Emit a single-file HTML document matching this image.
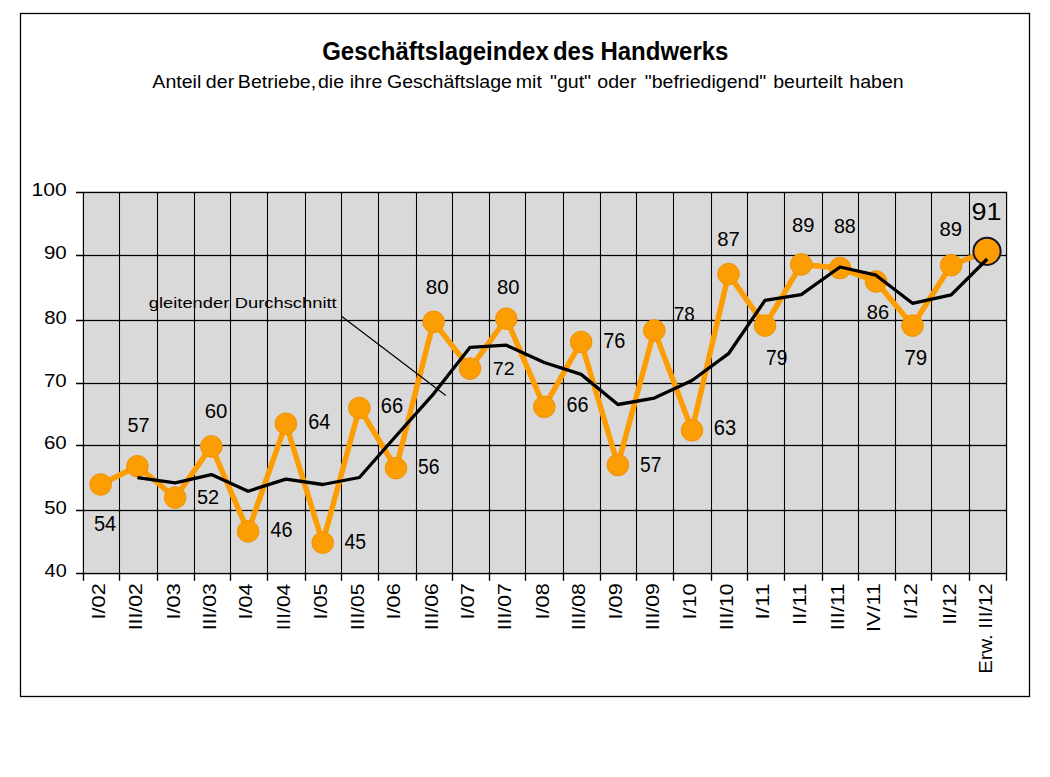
<!DOCTYPE html>
<html><head><meta charset="utf-8"><style>
html,body{margin:0;padding:0;background:#fff;width:1050px;height:777px;overflow:hidden}
svg{display:block}
text{font-family:"Liberation Sans",sans-serif}
</style></head><body>
<svg width="1050" height="777" viewBox="0 0 1050 777">
<rect x="20.5" y="13.5" width="1009" height="683" fill="#fff" stroke="#000" stroke-width="1.3"/>
<rect x="83.5" y="192.5" width="923.0" height="381.0" fill="#D9D9D9"/>
<path d="M76,573.50H1007.20 M76,510.50H1007.20 M76,445.50H1007.20 M76,383.50H1007.20 M76,320.50H1007.20 M76,255.50H1007.20 M76,192.50H1007.20 M83.50,191.80V580.7 M119.50,191.80V580.7 M157.50,191.80V580.7 M194.50,191.80V580.7 M230.50,191.80V580.7 M267.50,191.80V580.7 M305.50,191.80V580.7 M341.50,191.80V580.7 M378.50,191.80V580.7 M416.50,191.80V580.7 M452.50,191.80V580.7 M489.50,191.80V580.7 M525.50,191.80V580.7 M563.50,191.80V580.7 M600.50,191.80V580.7 M636.50,191.80V580.7 M673.50,191.80V580.7 M711.50,191.80V580.7 M747.50,191.80V580.7 M784.50,191.80V580.7 M822.50,191.80V580.7 M858.50,191.80V580.7 M895.50,191.80V580.7 M931.50,191.80V580.7 M969.50,191.80V580.7 M1006.50,191.80V580.7" stroke="#fff" stroke-width="3.0" fill="none"/>
<path d="M76,573.50H1007.20 M76,510.50H1007.20 M76,445.50H1007.20 M76,383.50H1007.20 M76,320.50H1007.20 M76,255.50H1007.20 M76,192.50H1007.20 M83.50,191.80V580.7 M119.50,191.80V580.7 M157.50,191.80V580.7 M194.50,191.80V580.7 M230.50,191.80V580.7 M267.50,191.80V580.7 M305.50,191.80V580.7 M341.50,191.80V580.7 M378.50,191.80V580.7 M416.50,191.80V580.7 M452.50,191.80V580.7 M489.50,191.80V580.7 M525.50,191.80V580.7 M563.50,191.80V580.7 M600.50,191.80V580.7 M636.50,191.80V580.7 M673.50,191.80V580.7 M711.50,191.80V580.7 M747.50,191.80V580.7 M784.50,191.80V580.7 M822.50,191.80V580.7 M858.50,191.80V580.7 M895.50,191.80V580.7 M931.50,191.80V580.7 M969.50,191.80V580.7 M1006.50,191.80V580.7" stroke="#000" stroke-width="1.35" fill="none"/>
<text transform="translate(44.60,576.80) scale(1.1059,1)" font-size="18.00">40</text>
<text transform="translate(44.19,513.80) scale(1.1271,1)" font-size="18.00">50</text>
<text transform="translate(43.98,448.80) scale(1.1381,1)" font-size="18.00">60</text>
<text transform="translate(43.98,386.80) scale(1.1381,1)" font-size="18.00">70</text>
<text transform="translate(44.19,323.80) scale(1.1271,1)" font-size="18.00">80</text>
<text transform="translate(43.98,258.80) scale(1.1381,1)" font-size="18.00">90</text>
<text transform="translate(31.61,195.80) scale(1.1756,1)" font-size="18.00">100</text>
<polyline points="100.60,484.50 137.40,466.20 175.20,497.60 211.40,446.40 248.10,531.40 285.90,423.70 322.70,542.70 359.40,408.00 396.00,468.20 433.60,321.80 470.10,368.60 506.30,318.70 544.30,406.90 581.10,342.00 617.90,465.00 654.30,330.40 692.00,430.30 728.50,274.10 765.00,325.60 801.20,264.40 840.00,268.10 876.00,281.50 912.50,325.60 951.20,265.20 987.0,251.3" fill="none" stroke="#FD9D04" stroke-width="5.5" stroke-linejoin="round"/>
<circle cx="100.60" cy="484.50" r="10.8" fill="#FD9D04" stroke="#EE9200" stroke-width="1"/>
<circle cx="137.40" cy="466.20" r="10.8" fill="#FD9D04" stroke="#EE9200" stroke-width="1"/>
<circle cx="175.20" cy="497.60" r="10.8" fill="#FD9D04" stroke="#EE9200" stroke-width="1"/>
<circle cx="211.40" cy="446.40" r="10.8" fill="#FD9D04" stroke="#EE9200" stroke-width="1"/>
<circle cx="248.10" cy="531.40" r="10.8" fill="#FD9D04" stroke="#EE9200" stroke-width="1"/>
<circle cx="285.90" cy="423.70" r="10.8" fill="#FD9D04" stroke="#EE9200" stroke-width="1"/>
<circle cx="322.70" cy="542.70" r="10.8" fill="#FD9D04" stroke="#EE9200" stroke-width="1"/>
<circle cx="359.40" cy="408.00" r="10.8" fill="#FD9D04" stroke="#EE9200" stroke-width="1"/>
<circle cx="396.00" cy="468.20" r="10.8" fill="#FD9D04" stroke="#EE9200" stroke-width="1"/>
<circle cx="433.60" cy="321.80" r="10.8" fill="#FD9D04" stroke="#EE9200" stroke-width="1"/>
<circle cx="470.10" cy="368.60" r="10.8" fill="#FD9D04" stroke="#EE9200" stroke-width="1"/>
<circle cx="506.30" cy="318.70" r="10.8" fill="#FD9D04" stroke="#EE9200" stroke-width="1"/>
<circle cx="544.30" cy="406.90" r="10.8" fill="#FD9D04" stroke="#EE9200" stroke-width="1"/>
<circle cx="581.10" cy="342.00" r="10.8" fill="#FD9D04" stroke="#EE9200" stroke-width="1"/>
<circle cx="617.90" cy="465.00" r="10.8" fill="#FD9D04" stroke="#EE9200" stroke-width="1"/>
<circle cx="654.30" cy="330.40" r="10.8" fill="#FD9D04" stroke="#EE9200" stroke-width="1"/>
<circle cx="692.00" cy="430.30" r="10.8" fill="#FD9D04" stroke="#EE9200" stroke-width="1"/>
<circle cx="728.50" cy="274.10" r="10.8" fill="#FD9D04" stroke="#EE9200" stroke-width="1"/>
<circle cx="765.00" cy="325.60" r="10.8" fill="#FD9D04" stroke="#EE9200" stroke-width="1"/>
<circle cx="801.20" cy="264.40" r="10.8" fill="#FD9D04" stroke="#EE9200" stroke-width="1"/>
<circle cx="840.00" cy="268.10" r="10.8" fill="#FD9D04" stroke="#EE9200" stroke-width="1"/>
<circle cx="876.00" cy="281.50" r="10.8" fill="#FD9D04" stroke="#EE9200" stroke-width="1"/>
<circle cx="912.50" cy="325.60" r="10.8" fill="#FD9D04" stroke="#EE9200" stroke-width="1"/>
<circle cx="951.20" cy="265.20" r="10.8" fill="#FD9D04" stroke="#EE9200" stroke-width="1"/>
<circle cx="987.0" cy="251.3" r="13.6" fill="#FD9D04" stroke="#14142a" stroke-width="2"/>
<polyline points="137.40,477.60 175.20,482.80 211.40,474.60 248.10,491.20 285.90,479.10 322.70,484.50 359.40,477.50 396.00,436.00 433.60,393.80 470.10,347.30 506.30,345.20 544.30,362.50 581.10,374.40 617.90,404.50 654.30,398.10 692.00,380.50 728.50,353.70 765.00,300.40 801.20,294.70 840.00,267.00 876.00,275.20 912.50,303.30 951.20,294.80 987.20,259.00" fill="none" stroke="#000" stroke-width="3.3" stroke-linejoin="round"/>
<path d="M341.2,316.1L445.8,395.4" stroke="#000" stroke-width="1.2"/>
<text transform="translate(94.00,530.60) scale(0.9139,1)" font-size="21.88">54</text>
<text transform="translate(127.61,431.50) scale(0.9761,1)" font-size="20.29">57</text>
<text transform="translate(197.00,504.00) scale(1.0096,1)" font-size="19.71">52</text>
<text transform="translate(204.78,418.00) scale(1.0194,1)" font-size="20.00">60</text>
<text transform="translate(270.40,537.00) scale(0.9244,1)" font-size="21.43">46</text>
<text transform="translate(308.20,428.70) scale(0.9166,1)" font-size="21.71">64</text>
<text transform="translate(344.41,549.00) scale(0.8940,1)" font-size="21.74">45</text>
<text transform="translate(380.80,412.70) scale(0.9379,1)" font-size="21.43">66</text>
<text transform="translate(418.03,473.50) scale(0.8971,1)" font-size="21.43">56</text>
<text transform="translate(425.78,294.00) scale(0.9934,1)" font-size="20.71">80</text>
<text transform="translate(492.82,374.50) scale(1.0320,1)" font-size="19.00">72</text>
<text transform="translate(496.99,294.00) scale(0.9748,1)" font-size="20.71">80</text>
<text transform="translate(566.61,412.30) scale(0.9120,1)" font-size="21.71">66</text>
<text transform="translate(603.20,347.50) scale(0.9288,1)" font-size="21.43">76</text>
<text transform="translate(640.03,471.50) scale(0.9023,1)" font-size="21.30">57</text>
<text transform="translate(673.86,321.00) scale(0.9412,1)" font-size="20.00">78</text>
<text transform="translate(713.80,435.00) scale(0.9379,1)" font-size="21.43">63</text>
<text transform="translate(717.29,246.30) scale(0.9729,1)" font-size="20.86">87</text>
<text transform="translate(766.04,364.50) scale(0.8967,1)" font-size="21.43">79</text>
<text transform="translate(791.99,232.20) scale(0.9616,1)" font-size="21.00">89</text>
<text transform="translate(833.91,232.50) scale(0.9385,1)" font-size="21.00">88</text>
<text transform="translate(866.80,318.70) scale(0.9524,1)" font-size="21.00">86</text>
<text transform="translate(904.38,364.50) scale(0.9562,1)" font-size="21.43">79</text>
<text transform="translate(939.39,236.30) scale(0.9729,1)" font-size="20.86">89</text>
<text transform="translate(971.55,220.40) scale(1.1650,1)" font-size="23.14">91</text>
<text transform="translate(104.90,619.44) rotate(-90) scale(1.1415,1)" font-size="19.0">I/02</text>
<text transform="translate(141.70,630.27) rotate(-90) scale(1.1098,1)" font-size="19.0">III/02</text>
<text transform="translate(179.50,619.44) rotate(-90) scale(1.1415,1)" font-size="19.0">I/03</text>
<text transform="translate(215.70,630.27) rotate(-90) scale(1.1098,1)" font-size="19.0">III/03</text>
<text transform="translate(252.40,619.41) rotate(-90) scale(1.1268,1)" font-size="19.0">I/04</text>
<text transform="translate(290.20,630.25) rotate(-90) scale(1.0993,1)" font-size="19.0">III/04</text>
<text transform="translate(327.00,619.42) rotate(-90) scale(1.1341,1)" font-size="19.0">I/05</text>
<text transform="translate(363.70,630.26) rotate(-90) scale(1.1045,1)" font-size="19.0">III/05</text>
<text transform="translate(400.30,619.44) rotate(-90) scale(1.1415,1)" font-size="19.0">I/06</text>
<text transform="translate(437.90,630.27) rotate(-90) scale(1.1098,1)" font-size="19.0">III/06</text>
<text transform="translate(474.40,619.44) rotate(-90) scale(1.1415,1)" font-size="19.0">I/07</text>
<text transform="translate(510.60,630.27) rotate(-90) scale(1.1098,1)" font-size="19.0">III/07</text>
<text transform="translate(548.60,619.44) rotate(-90) scale(1.1415,1)" font-size="19.0">I/08</text>
<text transform="translate(585.40,630.27) rotate(-90) scale(1.1098,1)" font-size="19.0">III/08</text>
<text transform="translate(622.20,619.44) rotate(-90) scale(1.1415,1)" font-size="19.0">I/09</text>
<text transform="translate(658.60,630.27) rotate(-90) scale(1.1098,1)" font-size="19.0">III/09</text>
<text transform="translate(696.30,619.42) rotate(-90) scale(1.1341,1)" font-size="19.0">I/10</text>
<text transform="translate(732.80,630.26) rotate(-90) scale(1.1045,1)" font-size="19.0">III/10</text>
<text transform="translate(769.30,619.53) rotate(-90) scale(1.1962,1)" font-size="19.0">I/11</text>
<text transform="translate(805.50,624.92) rotate(-90) scale(1.1684,1)" font-size="19.0">II/11</text>
<text transform="translate(844.30,630.34) rotate(-90) scale(1.1540,1)" font-size="19.0">III/11</text>
<text transform="translate(880.30,631.93) rotate(-90) scale(1.1343,1)" font-size="19.0">IV/11</text>
<text transform="translate(916.80,619.44) rotate(-90) scale(1.1415,1)" font-size="19.0">I/12</text>
<text transform="translate(955.50,624.85) rotate(-90) scale(1.1232,1)" font-size="19.0">II/12</text>
<text transform="translate(991.50,673.85) rotate(-90) scale(1.0711,1)" font-size="19.0">Erw. III/12</text>
<text transform="translate(322.18,59.70) scale(0.9053,1)" font-size="26.5" font-weight="bold">Geschäftslageindex</text>
<text transform="translate(552.95,59.70) scale(0.9053,1)" font-size="26.5" font-weight="bold">des</text>
<text transform="translate(600.44,59.70) scale(0.9053,1)" font-size="26.5" font-weight="bold">Handwerks</text>
<text transform="translate(152.33,88.20) scale(1.0692,1)" font-size="18.3" font-weight="normal">Anteil</text>
<text transform="translate(205.87,88.20) scale(1.0692,1)" font-size="18.3" font-weight="normal">der</text>
<text transform="translate(237.86,88.20) scale(1.0692,1)" font-size="18.3" font-weight="normal">Betriebe,</text>
<text transform="translate(317.94,88.20) scale(1.0692,1)" font-size="18.3" font-weight="normal">die</text>
<text transform="translate(349.67,88.20) scale(1.0692,1)" font-size="18.3" font-weight="normal">ihre</text>
<text transform="translate(386.94,88.20) scale(1.0692,1)" font-size="18.3" font-weight="normal">Geschäftslage</text>
<text transform="translate(515.80,88.20) scale(1.0692,1)" font-size="18.3" font-weight="normal">mit</text>
<text transform="translate(549.95,88.20) scale(1.0692,1)" font-size="18.3" font-weight="normal">"gut"</text>
<text transform="translate(597.29,88.20) scale(1.0692,1)" font-size="18.3" font-weight="normal">oder</text>
<text transform="translate(644.70,88.20) scale(1.0692,1)" font-size="18.3" font-weight="normal">"befriedigend"</text>
<text transform="translate(773.18,88.20) scale(1.0692,1)" font-size="18.3" font-weight="normal">beurteilt</text>
<text transform="translate(849.30,88.20) scale(1.0692,1)" font-size="18.3" font-weight="normal">haben</text>
<text transform="translate(148.79,307.50) scale(1.1826,1)" font-size="15.5" font-weight="normal">gleitender</text>
<text transform="translate(234.80,307.50) scale(1.1826,1)" font-size="15.5" font-weight="normal">Durchschnitt</text>
</svg>
</body></html>
